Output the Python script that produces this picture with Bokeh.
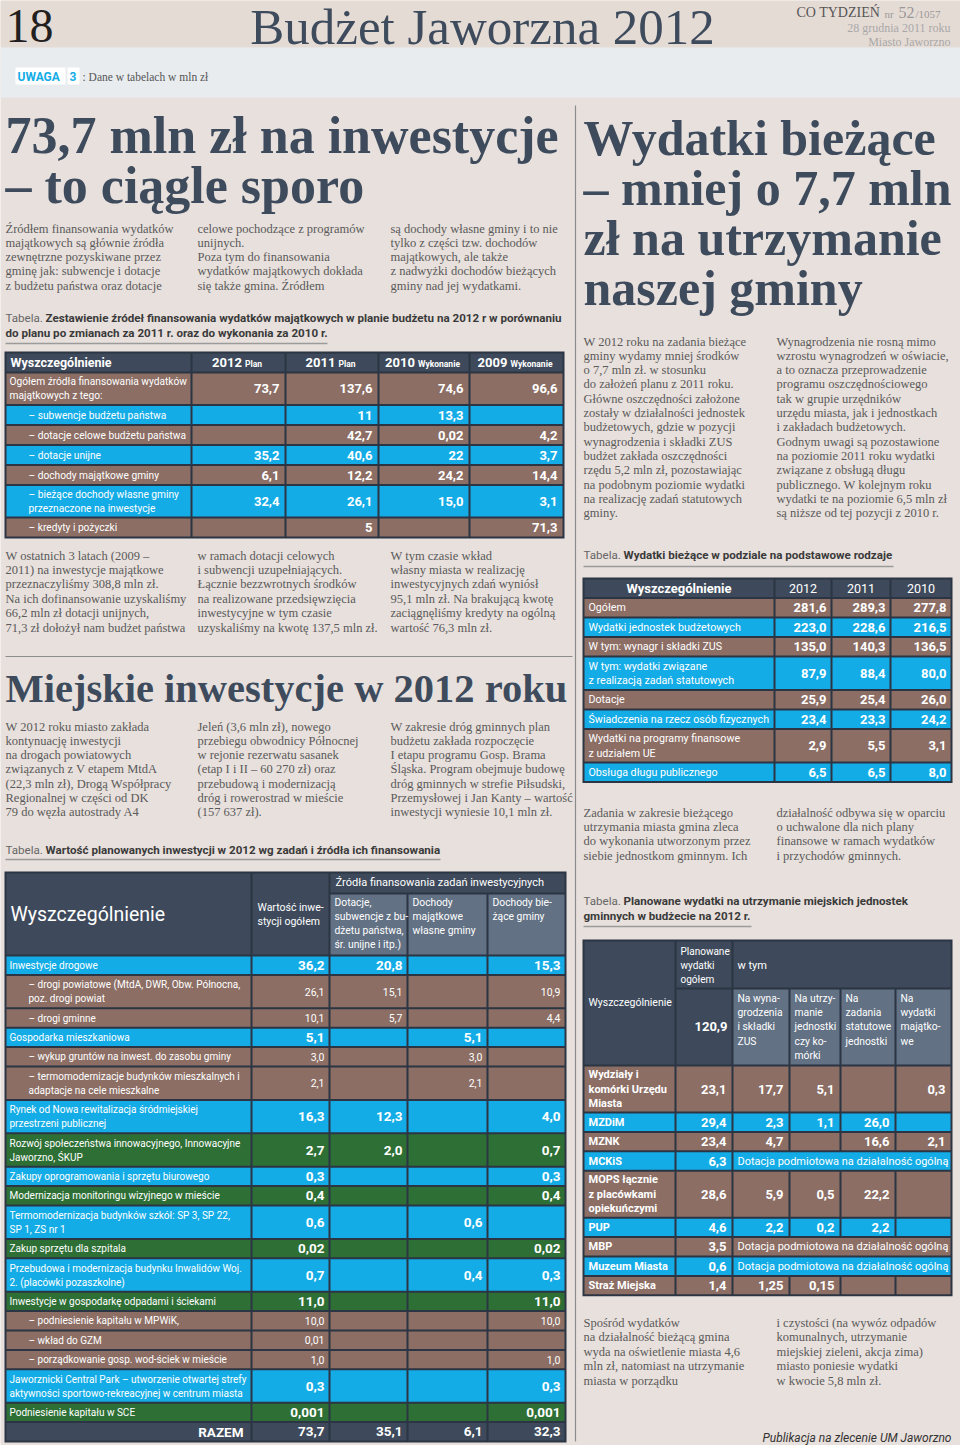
from bokeh.plotting import figure
from bokeh.models import ColumnDataSource, Range1d
from bokeh.embed import file_html
from bokeh.resources import INLINE
from bokeh.core.properties import value

# =================== DATA / TEXT ===================
page_number = "18"
page_title = "Budżet Jaworzna 2012"
masthead = ["CO TYDZIEŃ", "nr", "52", "/1057"]
issue_date = "28 grudnia 2011 roku"
issue_place = "Miasto Jaworzno"
note_label = "UWAGA"
note_num = "3"
note_text = ": Dane w tabelach w mln zł"

headline_left = ["73,7 mln zł na inwestycje", "– to ciągle sporo"]
headline_right = ["Wydatki bieżące", "– mniej o 7,7 mln", "zł na utrzymanie", "naszej gminy"]
headline_mid = "Miejskie inwestycje w 2012 roku"
caption_word = "Tabela."

intro_cols = [
    ["Źródłem finansowania wydatków", "majątkowych są głównie źródła", "zewnętrzne pozyskiwane przez",
     "gminę jak: subwencje i dotacje", "z budżetu państwa oraz dotacje"],
    ["celowe pochodzące z programów", "unijnych.", "Poza tym do finansowania",
     "wydatków majątkowych dokłada", "się także gmina. Źródłem"],
    ["są dochody własne gminy i to nie", "tylko z części tzw. dochodów", "majątkowych, ale także",
     "z nadwyżki dochodów bieżących", "gminy nad jej wydatkami."],
]
t1_caption = ["Zestawienie źródeł finansowania wydatków majątkowych w planie budżetu na 2012 r w porównaniu",
              "do planu po zmianach za 2011 r. oraz do wykonania za 2010 r."]
t1_header = "Wyszczególnienie"
t1_years = ["2012", "2011", "2010", "2009"]
t1_kinds = ["Plan", "Plan", "Wykonanie", "Wykonanie"]
t1_labels = ["Ogółem źródła finansowania wydatków\nmajątkowych z tego:",
             "– subwencje  budżetu państwa",
             "– dotacje celowe budżetu państwa",
             "– dotacje unijne",
             "– dochody majątkowe gminy",
             "– bieżące dochody własne gminy\nprzeznaczone na inwestycje",
             "– kredyty i pożyczki"]
t1_plan_2012 = ["73,7", "", "", "35,2", "6,1", "32,4", ""]
t1_plan_2011 = ["137,6", "11", "42,7", "40,6", "12,2", "26,1", "5"]
t1_exec_2010 = ["74,6", "13,3", "0,02", "22", "24,2", "15,0", ""]
t1_exec_2009 = ["96,6", "", "4,2", "3,7", "14,4", "3,1", "71,3"]

after_t1_cols = [
    ["W ostatnich 3 latach (2009 –", "2011) na inwestycje majątkowe", "przeznaczyliśmy 308,8 mln zł.",
     "Na ich dofinansowanie uzyskaliśmy", "66,2 mln zł dotacji unijnych,", "71,3 zł dołożył nam budżet państwa"],
    ["w ramach dotacji celowych", "i subwencji uzupełniających.", "Łącznie bezzwrotnych środków",
     "na realizowane przedsięwzięcia", "inwestycyjne w tym czasie", "uzyskaliśmy na kwotę 137,5 mln zł."],
    ["W tym czasie wkład", "własny miasta w realizację", "inwestycyjnych zdań wyniósł",
     "95,1 mln zł. Na brakującą kwotę", "zaciągnęliśmy kredyty na ogólną", "wartość 76,3 mln zł."],
]
mid_cols = [
    ["W 2012 roku miasto zakłada", "kontynuację inwestycji", "na drogach powiatowych",
     "związanych z V etapem MtdA", "(22,3 mln zł), Drogą Współpracy", "Regionalnej w części od DK",
     "79 do węzła autostrady A4"],
    ["Jeleń (3,6 mln zł), nowego", "przebiegu obwodnicy Północnej", "w rejonie rezerwatu sasanek",
     "(etap I i II – 60 270 zł) oraz", "przebudową i modernizacją", "dróg i rowerostrad w mieście",
     "(157 637 zł)."],
    ["W zakresie dróg gminnych plan", "budżetu zakłada rozpoczęcie", "I etapu programu Gosp. Brama",
     "Śląska. Program obejmuje budowę", "dróg gminnych w strefie Piłsudski,",
     "Przemysłowej i Jan Kanty – wartość", "inwestycji wyniesie 10,1 mln zł."],
]
t3_caption = "Wartość planowanych inwestycji w 2012 wg zadań i źródła ich finansowania"
t3_head_total = "Wartość inwe-\nstycji ogółem"
t3_head_group = "Źródła finansowania zadań inwestycyjnych"
t3_head_sources = ["Dotacje,\nsubwencje z bu-\ndżetu państwa,\nśr. unijne i itp.)",
                   "Dochody\nmajątkowe\nwłasne gminy",
                   "Dochody bie-\nżące gminy"]
t3_labels = ["Inwestycje drogowe",
             "– drogi powiatowe (MtdA, DWR, Obw. Północna,\npoz. drogi powiat",
             "– drogi gminne",
             "Gospodarka mieszkaniowa",
             "– wykup gruntów na inwest. do zasobu gminy",
             "– termomodernizacje budynków mieszkalnych i\nadaptacje na cele mieszkalne",
             "Rynek od Nowa rewitalizacja śródmiejskiej\nprzestrzeni publicznej",
             "Rozwój społeczeństwa innowacyjnego, Innowacyjne\nJaworzno, ŚKUP",
             "Zakupy oprogramowania i sprzętu biurowego",
             "Modernizacja monitoringu wizyjnego w mieście",
             "Termomodernizacja budynków szkół: SP 3, SP 22,\nSP 1, ZS nr 1",
             "Zakup sprzętu dla szpitala",
             "Przebudowa i modernizacja budynku Inwalidów Woj.\n2. (placówki pozaszkolne)",
             "Inwestycje w gospodarkę odpadami i ściekami",
             "– podniesienie kapitału w MPWiK,",
             "– wkład do GZM",
             "– porządkowanie gosp. wod-ściek w mieście",
             "Jaworznicki Central Park – utworzenie otwartej strefy\naktywności sportowo-rekreacyjnej w centrum miasta",
             "Podniesienie kapitału w SCE",
             "RAZEM"]
t3_total = ["36,2", "26,1", "10,1", "5,1", "3,0", "2,1", "16,3", "2,7", "0,3", "0,4", "0,6", "0,02",
            "0,7", "11,0", "10,0", "0,01", "1,0", "0,3", "0,001", "73,7"]
t3_grants = ["20,8", "15,1", "5,7", "", "", "", "12,3", "2,0", "", "", "", "",
             "", "", "", "", "", "", "", "35,1"]
t3_own_capital = ["", "", "", "5,1", "3,0", "2,1", "", "", "", "", "0,6", "",
                  "0,4", "", "", "", "", "", "", "6,1"]
t3_current = ["15,3", "10,9", "4,4", "", "", "", "4,0", "0,7", "0,3", "0,4", "", "0,02",
              "0,3", "11,0", "10,0", "", "1,0", "0,3", "0,001", "32,3"]

right_cols = [
    ["W 2012 roku na zadania bieżące", "gminy wydamy mniej środków", "o 7,7 mln zł. w stosunku",
     "do założeń planu z 2011 roku.", "Główne oszczędności założone", "zostały w działalności jednostek",
     "budżetowych, gdzie w pozycji", "wynagrodzenia i składki ZUS", "budżet zakłada oszczędności",
     "rzędu 5,2 mln zł, pozostawiając", "na podobnym poziomie wydatki", "na realizację zadań statutowych",
     "gminy."],
    ["Wynagrodzenia nie rosną mimo", "wzrostu wynagrodzeń w oświacie,", "a to oznacza przeprowadzenie",
     "programu oszczędnościowego", "tak w grupie urzędników", "urzędu miasta, jak i jednostkach",
     "i zakładach budżetowych.", "Godnym uwagi są pozostawione", "na poziomie 2011 roku wydatki",
     "związane z obsługą długu", "publicznego. W kolejnym roku", "wydatki te na poziomie 6,5 mln zł",
     "są niższe od tej pozycji z 2010 r."],
]
t2_caption = "Wydatki bieżące w podziale na podstawowe rodzaje"
t2_years = ["2012", "2011", "2010"]
t2_labels = ["Ogółem", "Wydatki jednostek budżetowych", "W tym: wynagr i składki ZUS",
             "W tym: wydatki związane\nz realizacją zadań statutowych", "Dotacje",
             "Świadczenia na rzecz osób fizycznych", "Wydatki na programy finansowe\nz udziałem UE",
             "Obsługa długu publicznego"]
t2_2012 = ["281,6", "223,0", "135,0", "87,9", "25,9", "23,4", "2,9", "6,5"]
t2_2011 = ["289,3", "228,6", "140,3", "88,4", "25,4", "23,3", "5,5", "6,5"]
t2_2010 = ["277,8", "216,5", "136,5", "80,0", "26,0", "24,2", "3,1", "8,0"]

after_t2_cols = [
    ["Zadania w zakresie bieżącego", "utrzymania miasta gmina zleca", "do wykonania utworzonym przez",
     "siebie jednostkom gminnym. Ich"],
    ["działalność odbywa się w oparciu", "o uchwalone dla nich plany", "finansowe w ramach wydatków",
     "i przychodów gminnych."],
]
t4_caption = ["Planowane wydatki na utrzymanie miejskich jednostek", "gminnych w budżecie na 2012 r."]
t4_head_total = "Planowane\nwydatki\nogółem"
t4_head_group = "w tym"
t4_grand_total = "120,9"
t4_head_parts = ["Na wyna-\ngrodzenia\ni składki\nZUS", "Na utrzy-\nmanie\njednostki\nczy ko-\nmórki",
                 "Na\nzadania\nstatutowe\njednostki", "Na\nwydatki\nmajątko-\nwe"]
t4_units = ["Wydziały i\nkomórki Urzędu\nMiasta", "MZDiM", "MZNK", "MCKiS",
            "MOPS łącznie\nz placówkami\nopiekuńczymi", "PUP", "MBP", "Muzeum Miasta", "Straż Miejska"]
t4_total = ["23,1", "29,4", "23,4", "6,3", "28,6", "4,6", "3,5", "0,6", "1,4"]
t4_wages = ["17,7", "2,3", "4,7", "", "5,9", "2,2", "", "", "1,25"]
t4_upkeep = ["5,1", "1,1", "", "", "0,5", "0,2", "", "", "0,15"]
t4_statutory = ["", "26,0", "16,6", "", "22,2", "2,2", "", "", ""]
t4_capital = ["0,3", "", "2,1", "", "", "", "", "", ""]
t4_note = ["", "", "", "Dotacja podmiotowa na działalność ogólną", "", "",
           "Dotacja podmiotowa na działalność ogólną", "Dotacja podmiotowa na działalność ogólną", ""]

closing_cols = [
    ["Spośród wydatków", "na działalność bieżącą gmina", "wyda na oświetlenie miasta 4,6",
     "mln zł, natomiast na utrzymanie", "miasta w porządku"],
    ["i czystości (na wywóz odpadów", "komunalnych, utrzymanie", "miejskiej zieleni, akcja zima)",
     "miasto poniesie wydatki", "w kwocie 5,8 mln zł."],
]
footer = "Publikacja na zlecenie UM Jaworzno"

# =================== STYLE ===================
BG = "#e8e0dc"
HEADER_BG = "#e5dbd5"
BAND = "#e8ecef"
BROWN = "#8c6e65"
CYAN = "#14ace6"
GREEN = "#2e6f36"
SLATE = "#3e4a5b"
SLATE_L = "#627184"
GRID = "#2b3543"
TEXT = "#5a5a5a"
HEAD = "#3e4b5c"
SERIF = "Liberation Serif"
NARROW = "Roboto"
SANS = "Roboto"
WHITE = "#ffffff"

T3_FILL = [CYAN, BROWN, BROWN, CYAN, BROWN, BROWN, CYAN, GREEN, CYAN, GREEN, CYAN, GREEN,
           CYAN, GREEN, BROWN, BROWN, BROWN, CYAN, GREEN, SLATE]

# =================== FIGURE ===================
p = figure(width=960, height=1445, x_range=Range1d(0, 960), y_range=Range1d(1445, 0),
           output_backend="svg", toolbar_location=None, min_border=0,
           x_axis_location=None, y_axis_location=None)
p.grid.visible = False
p.outline_line_color = None
p.background_fill_color = BG
p.border_fill_color = BG

RECTS = {"l": [], "r": [], "t": [], "b": [], "c": []}
SEGS = {"x0": [], "y0": [], "x1": [], "y1": [], "c": [], "w": []}
TXT = {}


def R(l, r, t, b, c):
    RECTS["l"].append(l); RECTS["r"].append(r); RECTS["t"].append(t); RECTS["b"].append(b); RECTS["c"].append(c)


def S(x0, y0, x1, y1, c, w=1.0):
    SEGS["x0"].append(x0); SEGS["y0"].append(y0); SEGS["x1"].append(x1); SEGS["y1"].append(y1)
    SEGS["c"].append(c); SEGS["w"].append(w)


def T(x, y, s, size=12.5, color=TEXT, font=SERIF, style="normal", align="left"):
    if not s:
        return
    key = (size, color, font, style, align)
    d = TXT.setdefault(key, {"x": [], "y": [], "t": []})
    d["x"].append(x); d["y"].append(y); d["t"].append(s)


def ML(x, yc, s, lh, **kw):
    lines = s.split("\n")
    n = len(lines)
    for i, ln in enumerate(lines):
        T(x, yc + (i - (n - 1) / 2.0) * lh, ln, **kw)


def columns(cols, xs, y0, lh, size=12.5):
    for col, x in zip(cols, xs):
        for i, ln in enumerate(col):
            T(x, y0 + i * lh, ln, size=size)


def caption(x, y, parts, tail_x, line2=None, size=11.6):
    T(x, y, caption_word, size=size, color="#666666", font=SANS)
    T(tail_x, y, parts, size=size, color="#3a3a3a", font=SANS, style="bold")
    if line2:
        T(x, y + 15.5, line2, size=size, color="#3a3a3a", font=SANS, style="bold")


# ---- header ----
R(0, 960, 0, 47, HEADER_BG)
R(0, 960, 47, 97, BAND)
T(5, 25, page_number, size=48, color="#231f20", font=SERIF)
T(482, 26.5, page_title, size=51, color=HEAD, font=SERIF, align="center")
T(796, 12, masthead[0], size=14, color="#555555", font=SERIF)
T(884, 13, masthead[1], size=11, color="#999999", font=SERIF)
T(898, 12, masthead[2], size=16, color="#999999", font=SERIF)
T(915, 13, masthead[3], size=11, color="#999999", font=SERIF)
T(950, 27, issue_date, size=12, color="#a8a8a8", font=SERIF, align="right")
T(950, 41, issue_place, size=12, color="#a8a8a8", font=SERIF, align="right")
R(15, 65, 67, 84, WHITE)
R(67, 79, 67, 84, WHITE)
T(17, 76, note_label, size=12, color=CYAN, font=NARROW, style="bold")
T(69, 76, note_num, size=12, color=CYAN, font=NARROW, style="bold")
T(82, 76, note_text, size=11.5, color="#555555", font=SERIF)

# ---- rules ----
S(575, 105, 575, 1441, "#8c8c8c", 1.2)
S(5, 656, 572, 656, "#8c8c8c", 1.2)

# ---- headlines ----
for i, ln in enumerate(headline_left):
    T(5, 135 + i * 50, ln, size=52, color=HEAD, font=SERIF, style="bold")
for i, ln in enumerate(headline_right):
    T(583, 137 + i * 50, ln, size=50, color=HEAD, font=SERIF, style="bold")
T(5, 688, headline_mid, size=40.5, color=HEAD, font=SERIF, style="bold")

COLX = [5, 197, 390]
columns(intro_cols, COLX, 228, 14.3)
columns(after_t1_cols, COLX, 555, 14.4)
columns(mid_cols, COLX, 726, 14.3)
columns(right_cols, [583, 776], 341, 14.3)
columns(after_t2_cols, [583, 776], 812, 14.4)
columns(closing_cols, [583, 776], 1322, 14.5)

# ---- captions ----
caption(5, 317, t1_caption[0], 45, t1_caption[1])
S(5, 343, 327, 343, "#9b9b9b", 1.5)
caption(5, 849, t3_caption, 45)
S(5, 859, 440, 859, "#9b9b9b", 1.5)
caption(583, 554, t2_caption, 623)
S(583, 566, 893, 566, "#9b9b9b", 1.5)
caption(583, 900, t4_caption[0], 623, t4_caption[1])
S(583, 926, 751, 926, "#9b9b9b", 1.5)


def row_bounds(y0, labels, hs):
    out = []
    y = y0
    for lab in labels:
        h = hs[lab.count("\n") + 1]
        out.append((y, y + h))
        y += h
    return out


def cell(l, r, t, b, c):
    R(l + 1, r - 1, t + 1, b - 1, c)


# ---- table 1 ----
X1 = [5, 191, 285, 378, 469, 563]
top1 = 352
rows1 = row_bounds(top1 + 20, t1_labels, {1: 20, 2: 32.5})
R(X1[0] - 1, X1[-1] + 1, top1 - 1, rows1[-1][1] + 1, GRID)
for j in range(5):
    cell(X1[j], X1[j + 1], top1, top1 + 20, SLATE)
T(10, top1 + 10, t1_header, size=12.5, color=WHITE, font=NARROW, style="bold")
for j, (yr, kd) in enumerate(zip(t1_years, t1_kinds)):
    cx = (X1[j + 1] + X1[j + 2]) / 2.0
    w_year, w_kind = 30, 5.0 * len(kd)
    x0 = cx - (w_year + 3 + w_kind) / 2.0
    T(x0, top1 + 10, yr, size=13, color=WHITE, font=NARROW, style="bold")
    T(x0 + w_year + 3, top1 + 11, kd, size=8.5, color=WHITE, font=NARROW, style="bold")
t1_vals = [t1_plan_2012, t1_plan_2011, t1_exec_2010, t1_exec_2009]
for i, lab in enumerate(t1_labels):
    t, b = rows1[i]
    fill = BROWN if i % 2 == 0 else CYAN
    for j in range(5):
        cell(X1[j], X1[j + 1], t, b, fill)
    yc = (t + b) / 2.0
    ML(28 if lab.startswith("–") else 9, yc, lab, 14, size=10.2, color=WHITE, font=NARROW)
    for j, col in enumerate(t1_vals):
        T(X1[j + 2] - 6, yc, col[i], size=13, color=WHITE, font=NARROW, style="bold", align="right")

# ---- table 3 ----
X3 = [5, 251, 329, 407, 487, 565]
top3 = 872
hdr3 = 955
rows3 = row_bounds(hdr3, t3_labels, {1: 19.4, 2: 33.4})
R(X3[0] - 1, X3[-1] + 1, top3 - 1, rows3[-1][1] + 1, GRID)
cell(X3[0], X3[1], top3, hdr3, SLATE)
cell(X3[1], X3[2], top3, hdr3, SLATE)
cell(X3[2], X3[5], top3, top3 + 21, SLATE)
for j in range(3):
    cell(X3[2 + j], X3[3 + j], top3 + 21, hdr3, SLATE_L)
T(10, 914, t1_header, size=19.5, color=WHITE, font=NARROW)
ML(257, 914, t3_head_total, 14, size=10.5, color=WHITE, font=NARROW)
T(335, 882, t3_head_group, size=11, color=WHITE, font=NARROW)
for j, h in enumerate(t3_head_sources):
    lines = h.split("\n")
    for k, ln in enumerate(lines):
        T(X3[2 + j] + 5, 902 + k * 14, ln, size=10.3, color=WHITE, font=NARROW)
t3_vals = [t3_total, t3_grants, t3_own_capital, t3_current]
for i, lab in enumerate(t3_labels):
    t, b = rows3[i]
    fill = T3_FILL[i]
    for j in range(5):
        cell(X3[j], X3[j + 1], t, b, fill)
    yc = (t + b) / 2.0
    sub = lab.startswith("–")
    if lab == "RAZEM":
        T(X3[1] - 8, yc, lab, size=13.5, color=WHITE, font=NARROW, style="bold", align="right")
    else:
        ML(28 if sub else 9, yc, lab, 14, size=10, color=WHITE, font=NARROW)
    for j, col in enumerate(t3_vals):
        if sub:
            T(X3[j + 2] - 5, yc, col[i], size=10.5, color=WHITE, font=NARROW, align="right")
        else:
            T(X3[j + 2] - 5, yc, col[i], size=13.5, color=WHITE, font=NARROW, style="bold", align="right")

# ---- table 2 ----
X2 = [583, 774, 831, 890, 951]
top2 = 578
rows2 = row_bounds(top2 + 19.5, t2_labels, {1: 19.5, 2: 33.5})
R(X2[0] - 1, X2[-1] + 1, top2 - 1, rows2[-1][1] + 1, GRID)
for j in range(4):
    cell(X2[j], X2[j + 1], top2, top2 + 19.5, SLATE)
T((X2[0] + X2[1]) / 2.0, top2 + 10, t1_header, size=13, color=WHITE, font=NARROW, style="bold", align="center")
for j, yr in enumerate(t2_years):
    T((X2[j + 1] + X2[j + 2]) / 2.0, top2 + 10, yr, size=12.5, color=WHITE, font=NARROW, align="center")
t2_vals = [t2_2012, t2_2011, t2_2010]
for i, lab in enumerate(t2_labels):
    t, b = rows2[i]
    fill = BROWN if i % 2 == 0 else CYAN
    for j in range(4):
        cell(X2[j], X2[j + 1], t, b, fill)
    yc = (t + b) / 2.0
    ML(588, yc, lab, 14.5, size=10.7, color=WHITE, font=NARROW)
    for j, col in enumerate(t2_vals):
        T(X2[j + 2] - 5, yc, col[i], size=13, color=WHITE, font=NARROW, style="bold", align="right")

# ---- table 4 ----
X4 = [583, 675, 732, 789, 840, 895, 951]
top4 = 940
mid4 = 988
hdr4 = 1065
rows4 = row_bounds(hdr4, t4_units, {1: 19.4, 3: 47})
R(X4[0] - 1, X4[-1] + 1, top4 - 1, rows4[-1][1] + 1, GRID)
cell(X4[0], X4[1], top4, hdr4, SLATE)
cell(X4[1], X4[2], top4, mid4, SLATE)
cell(X4[2], X4[6], top4, mid4, SLATE)
cell(X4[1], X4[2], mid4, hdr4, SLATE)
for j in range(4):
    cell(X4[2 + j], X4[3 + j], mid4, hdr4, SLATE_L)
T(588, 1002, t1_header, size=10.5, color=WHITE, font=NARROW)
ML(680, 965, t4_head_total, 14, size=10, color=WHITE, font=NARROW)
T(737, 965, t4_head_group, size=11, color=WHITE, font=NARROW)
T(X4[2] - 5, 1026, t4_grand_total, size=13, color=WHITE, font=NARROW, style="bold", align="right")
for j, h in enumerate(t4_head_parts):
    for k, ln in enumerate(h.split("\n")):
        T(X4[2 + j] + 5, 998 + k * 14.2, ln, size=10.3, color=WHITE, font=NARROW)
t4_vals = [t4_total, t4_wages, t4_upkeep, t4_statutory, t4_capital]
for i, lab in enumerate(t4_units):
    t, b = rows4[i]
    fill = BROWN if i % 2 == 0 else CYAN
    yc = (t + b) / 2.0
    cell(X4[0], X4[1], t, b, fill)
    cell(X4[1], X4[2], t, b, fill)
    if t4_note[i]:
        cell(X4[2], X4[6], t, b, fill)
        T(X4[2] + 5, yc, t4_note[i], size=11, color=WHITE, font=NARROW)
    else:
        for j in range(2, 6):
            cell(X4[j], X4[j + 1], t, b, fill)
    ML(588, yc, lab, 14.5, size=11, color=WHITE, font=NARROW, style="bold")
    for j, col in enumerate(t4_vals):
        T(X4[j + 2] - 6, yc, col[i], size=13, color=WHITE, font=NARROW, style="bold", align="right")

T(951, 1437, footer, size=12, color="#333333", font=NARROW, style="italic", align="right")

# =================== RENDER ===================
p.quad(left="l", right="r", top="t", bottom="b", fill_color="c", line_color=None,
       source=ColumnDataSource(RECTS))
p.segment(x0="x0", y0="y0", x1="x1", y1="y1", line_color="c", line_width="w",
          source=ColumnDataSource(SEGS))
for (size, color, font, style, align), d in TXT.items():
    p.text(x="x", y="y", text="t", source=ColumnDataSource(d),
           text_font_size=f"{size}px", text_color=color, text_font=value(font),
           text_font_style=style, text_align=align, text_baseline="middle")

open("out.html", "w").write(file_html(p, INLINE))
